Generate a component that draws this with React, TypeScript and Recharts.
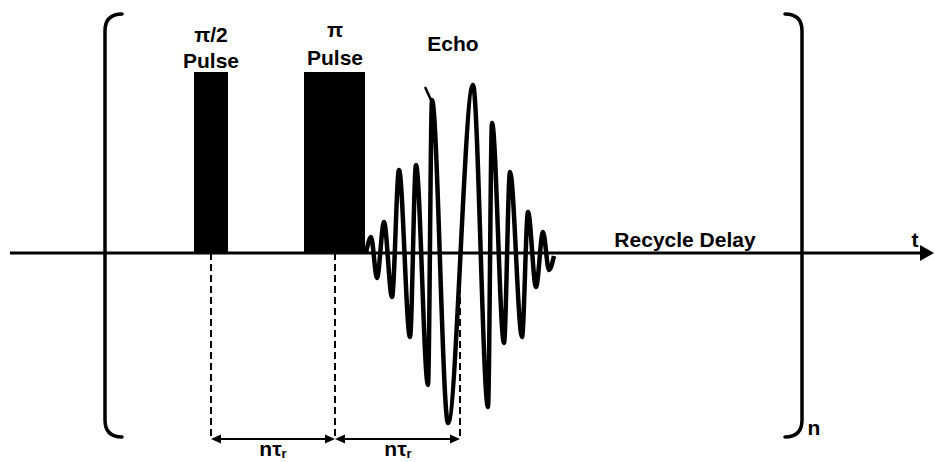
import React from 'react';
import {
  ComposedChart, Line, XAxis, YAxis, ReferenceArea, ReferenceLine, ReferenceDot,
} from 'recharts';

// Time axis runs 0..935, amplitude -209..253 (0 = the time axis itself)
const T_DOMAIN: [number, number] = [0, 935];
const A_DOMAIN: [number, number] = [-209, 253];

// RF pulses: [start, end, height]
const pulses: Array<[number, number, number]> = [
  [194, 228, 181], // pi/2
  [304, 365, 181], // pi
];

// Echo extremes, read peak by peak
const echoT = [366, 371, 377, 384, 392, 399, 410, 416, 428, 432, 448, 473, 488, 492, 504, 510, 522, 528, 536, 543, 549, 554];
const echoA = [0, 16, -25, 31, -44, 83, -84, 88, -132, 153, -170, 168, -154, 130, -90, 81, -84, 41, -34, 21, -17, -3];
const echoData = echoT.map((t, i) => ({ t, a: echoA[i] }));

// small kink at the top of the tallest early peak
const kinkT = [425, 431];
const kinkA = [166, 153];

// timing marks
const markT = [211, 335, 460];
const markBottom = -186;

// repeat bracket
const bracketT = [105, 802];
const bracketTop = 239;
const bracketBottom = -184;

const axisStart = 10;
const axisEnd = 934;

const labels = [
  { t: 211, a: 211, text: 'π/2' },
  { t: 211, a: 185, text: 'Pulse' },
  { t: 335, a: 216, text: 'π' },
  { t: 335, a: 188, text: 'Pulse' },
  { t: 453, a: 202, text: 'Echo' },
  { t: 685, a: 6, text: 'Recycle Delay' },
  { t: 915, a: 6, text: 't' },
  { t: 814, a: -182, text: 'n' },
];
const delayLabels = [
  { t: 273, a: -203 },
  { t: 398, a: -203 },
];

const FONT = '"Liberation Sans", Arial, sans-serif';
const INK = '#000';

const AxisShape = (p: any) => {
  const { x1, y1, x2 } = p;
  return (
    <g>
      <line x1={x1} y1={y1} x2={x2 - 12} y2={y1} stroke={INK} strokeWidth={3} />
      <polygon points={`${x2 - 14},${y1 - 8} ${x2},${y1} ${x2 - 14},${y1 + 8}`} fill={INK} />
    </g>
  );
};

const bracketShape = (dir: 1 | -1) => (p: any) => {
  const { x1, y1, y2 } = p;
  const top = Math.min(y1, y2);
  const bot = Math.max(y1, y2);
  const r = 17;
  const d = `M${x1 + dir * r},${top} Q${x1},${top} ${x1},${top + r} L${x1},${bot - r} Q${x1},${bot} ${x1 + dir * r},${bot}`;
  return <path d={d} fill="none" stroke={INK} strokeWidth={3.5} strokeLinecap="round" />;
};

const DoubleArrow = (p: any) => {
  const { x1, y1, x2 } = p;
  const h = 10;
  const w = 4.5;
  return (
    <g>
      <line x1={x1 + h} y1={y1} x2={x2 - h} y2={y1} stroke={INK} strokeWidth={2} />
      <polygon points={`${x1},${y1} ${x1 + h},${y1 - w} ${x1 + h},${y1 + w}`} fill={INK} />
      <polygon points={`${x2},${y1} ${x2 - h},${y1 - w} ${x2 - h},${y1 + w}`} fill={INK} />
    </g>
  );
};

const textShape = (text: string) => (p: any) => (
  <text x={p.cx} y={p.cy} textAnchor="middle" fontFamily={FONT} fontWeight={700} fontSize={21} fill={INK}>
    {text}
  </text>
);

const delayShape = (p: any) => (
  <text x={p.cx} y={p.cy} textAnchor="middle" fontFamily={FONT} fontWeight={700} fontSize={21} fill={INK}>
    nτ<tspan fontSize={13} dy={2}>r</tspan>
  </text>
);

export default function App() {
  return (
    <div style={{ position: 'absolute', left: 0, top: 0, width: 935, height: 462, background: '#fff' }}>
      <ComposedChart width={935} height={462} margin={{ top: 0, right: 0, bottom: 0, left: 0 }}>
        <XAxis type="number" dataKey="t" domain={T_DOMAIN} allowDataOverflow hide />
        <YAxis type="number" domain={A_DOMAIN} allowDataOverflow hide />

        {markT.map(t => (
          <ReferenceLine
            key={`mark-${t}`}
            segment={[{ x: t, y: 0 }, { x: t, y: markBottom }]}
            stroke={INK}
            strokeWidth={2}
            strokeDasharray="7 4"
          />
        ))}

        {pulses.map(([x1, x2, h]) => (
          <ReferenceArea key={`pulse-${x1}`} x1={x1} x2={x2} y1={0} y2={h} fill={INK} fillOpacity={1} stroke="none" />
        ))}

        <ReferenceLine segment={[{ x: axisStart, y: 0 }, { x: axisEnd, y: 0 }]} shape={AxisShape} />

        <ReferenceLine
          segment={[{ x: bracketT[0], y: bracketTop }, { x: bracketT[0], y: bracketBottom }]}
          shape={bracketShape(1)}
        />
        <ReferenceLine
          segment={[{ x: bracketT[1], y: bracketTop }, { x: bracketT[1], y: bracketBottom }]}
          shape={bracketShape(-1)}
        />

        <ReferenceLine segment={[{ x: markT[0], y: markBottom }, { x: markT[1], y: markBottom }]} shape={DoubleArrow} />
        <ReferenceLine segment={[{ x: markT[1], y: markBottom }, { x: markT[2], y: markBottom }]} shape={DoubleArrow} />

        <Line
          data={echoData}
          dataKey="a"
          type="monotone"
          stroke={INK}
          strokeWidth={4.5}
          dot={false}
          activeDot={false}
          isAnimationActive={false}
        />
        <Line
          data={kinkT.map((t, i) => ({ t, a: kinkA[i] }))}
          dataKey="a"
          type="linear"
          stroke={INK}
          strokeWidth={2.5}
          dot={false}
          activeDot={false}
          isAnimationActive={false}
        />

        {labels.map(l => (
          <ReferenceDot key={`${l.text}-${l.a}`} x={l.t} y={l.a} shape={textShape(l.text)} />
        ))}
        {delayLabels.map(l => (
          <ReferenceDot key={`delay-${l.t}`} x={l.t} y={l.a} shape={delayShape} />
        ))}
      </ComposedChart>
    </div>
  );
}
